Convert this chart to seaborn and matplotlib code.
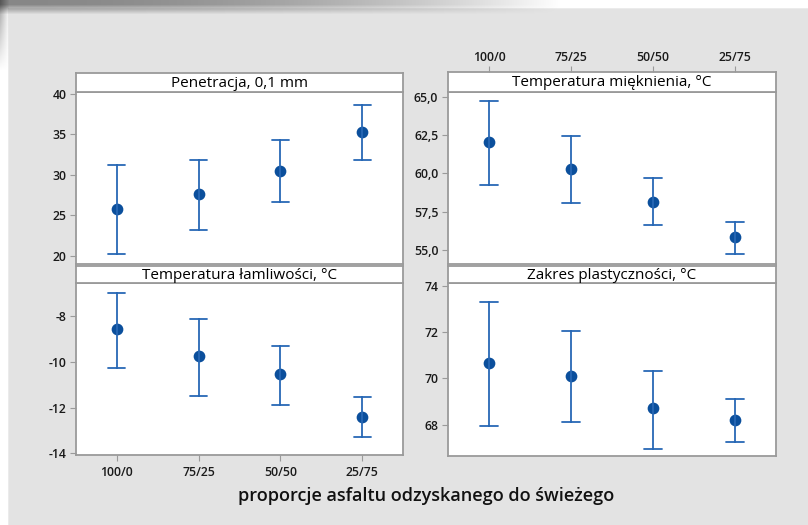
import numpy as np
import pandas as pd
import matplotlib
matplotlib.use("Agg")
import matplotlib.pyplot as plt
import seaborn as sns

# Mixing ratios (recycled : fresh binder)
proportions = ["100/0", "75/25", "50/50", "25/75"]

# Penetration, 0.1 mm: mean and interval ends
penetration_mean = [25.8, 27.65, 30.5, 35.35]
penetration_low = [20.2, 23.2, 26.6, 31.9]
penetration_high = [31.25, 31.9, 34.3, 38.7]

# Softening point, °C
softening_mean = [62.05, 60.28, 58.13, 55.83]
softening_low = [59.25, 58.08, 56.61, 54.72]
softening_high = [64.72, 62.42, 59.71, 56.85]

# Fraass breaking point, °C
fraass_mean = [-8.57, -9.76, -10.52, -12.42]
fraass_low = [-10.27, -11.5, -11.87, -13.27]
fraass_high = [-7.0, -8.13, -9.32, -11.54]

# Plasticity range, °C
plastic_mean = [70.68, 70.09, 68.71, 68.2]
plastic_low = [67.96, 68.12, 66.96, 67.25]
plastic_high = [73.29, 72.06, 70.32, 69.12]

titles = ["Penetracja, 0,1 mm", "Temperatura mięknienia, °C",
          "Temperatura łamliwości, °C", "Zakres plastyczności, °C"]
x_label = "proporcje asfaltu odzyskanego do świeżego"

pen_ticks = [20, 25, 30, 35, 40]
pen_labels = ["20", "25", "30", "35", "40"]
soft_ticks = [55.0, 57.5, 60.0, 62.5, 65.0]
soft_labels = ["55,0", "57,5", "60,0", "62,5", "65,0"]
fraass_ticks = [-14, -12, -10, -8]
fraass_labels = ["-14", "-12", "-10", "-8"]
plastic_ticks = [68, 70, 72, 74]
plastic_labels = ["68", "70", "72", "74"]

sns.set_theme(style="white")
plt.rcParams["font.family"] = ["Open Sans", "DejaVu Sans"]

W, H = 808, 525
fig = plt.figure(figsize=(W / 100, H / 100), dpi=100)
fig.patch.set_facecolor("white")

# page background with a soft shadow along the top and left edges
yy, xx = np.mgrid[0:H, 0:W].astype(float)
img = np.ones((H, W))
img[8:, 8:] = 0.894
img[8, 8:] = 0.925
img[8:, 8] = 0.925
a = 0.47 * np.clip(1 - (xx / 560.0) ** 2, 0, 1)
b = np.clip((14 - yy) / 10.0, 0, 1)
img *= 1 - a * b
left = 0.35 * np.clip(1 - yy / 70.0, 0, 1) * np.clip((9 - xx) / 9.0, 0, 1)
img *= 1 - left
bg = fig.add_axes([0, 0, 1, 1], zorder=-10)
bg.imshow(np.dstack([img] * 3), aspect="auto", extent=(0, W, H, 0))
bg.axis("off")

FRAME = "#9a9a9a"
POINT = "#0b4f9c"
BAR = "#2868b5"
TICKTXT = "#1a1a1a"
TICKSIZE = 8.8


def px_axes(x0, y0, x1, y1):
    return fig.add_axes([x0 / W, 1 - y1 / H, (x1 - x0) / W, (y1 - y0) / H])


def interval_frame(mean, low, high):
    rows = []
    for p, m, lo, hi in zip(proportions, mean, low, high):
        for v in (lo, m, hi):
            rows.append({"proporcja": p, "wartosc": v})
    return pd.DataFrame(rows)


panels = [
    # (plot box, strip box, data, ylim, ticks, labels)
    ((76, 92, 403, 264), (76, 73, 403, 92),
     (penetration_mean, penetration_low, penetration_high), (19.0, 40.25), pen_ticks, pen_labels),
    ((448, 92, 776, 264), (448, 72, 776, 92),
     (softening_mean, softening_low, softening_high), (54.1, 65.3), soft_ticks, soft_labels),
    ((76, 283, 403, 455), (76, 266, 403, 283),
     (fraass_mean, fraass_low, fraass_high), (-14.07, -6.57), fraass_ticks, fraass_labels),
    ((448, 283, 776, 456), (448, 266, 776, 283),
     (plastic_mean, plastic_low, plastic_high), (66.64, 74.13), plastic_ticks, plastic_labels),
]

for i, (box, sbox, (m, lo, hi), ylim, ticks, labels) in enumerate(panels):
    ax = px_axes(*box)
    df = interval_frame(m, lo, hi)
    sns.pointplot(data=df, x="proporcja", y="wartosc", order=proportions,
                  estimator="median", errorbar=("pi", 100), capsize=0.21,
                  color=POINT, marker="o", linestyle="none", markersize=6.4,
                  err_kws={"color": BAR, "linewidth": 1.3}, ax=ax)
    ax.set_xlim(-0.5, 3.5)
    ax.set_ylim(*ylim)
    ax.set_facecolor("white")
    ax.set_xlabel("")
    ax.set_ylabel("")
    for sp in ax.spines.values():
        sp.set_color(FRAME)
        sp.set_linewidth(1.3)
    ax.set_yticks(ticks, labels)
    ax.tick_params(axis="y", direction="out", length=4, width=0.8, color=FRAME,
                   labelsize=TICKSIZE, labelcolor=TICKTXT, pad=3, left=True)
    for t in ax.get_yticklabels():
        t.set_fontweight("semibold")
    if i == 2:
        ax.tick_params(axis="x", direction="out", length=4, width=0.8, color=FRAME,
                       labelsize=TICKSIZE, labelcolor=TICKTXT, pad=4, bottom=True)
        for t in ax.get_xticklabels():
            t.set_fontweight("semibold")
    else:
        ax.tick_params(axis="x", bottom=False, labelbottom=False)

    sax = px_axes(*sbox)
    sax.set_facecolor("white")
    sax.set_xlim(-0.5, 3.5)
    sax.set_ylim(0, 1)
    sax.set_yticks([])
    for sp in sax.spines.values():
        sp.set_color(FRAME)
        sp.set_linewidth(1.3)
    sax.text(1.5, 0.47, titles[i], ha="center", va="center", fontsize=11,
             color="black")
    if i == 1:
        sax.xaxis.tick_top()
        sax.set_xticks(range(len(proportions)), proportions)
        sax.tick_params(axis="x", direction="out", length=4, width=0.8, color=FRAME,
                        labelsize=TICKSIZE, labelcolor=TICKTXT, pad=2, top=True)
        for t in sax.get_xticklabels():
            t.set_fontweight("semibold")
    else:
        sax.set_xticks([])

fig.text(426 / W, 1 - 496 / H, x_label, ha="center", va="center",
         fontsize=13, fontweight="semibold", color="#111111")

fig.savefig("out.png", dpi=100)
